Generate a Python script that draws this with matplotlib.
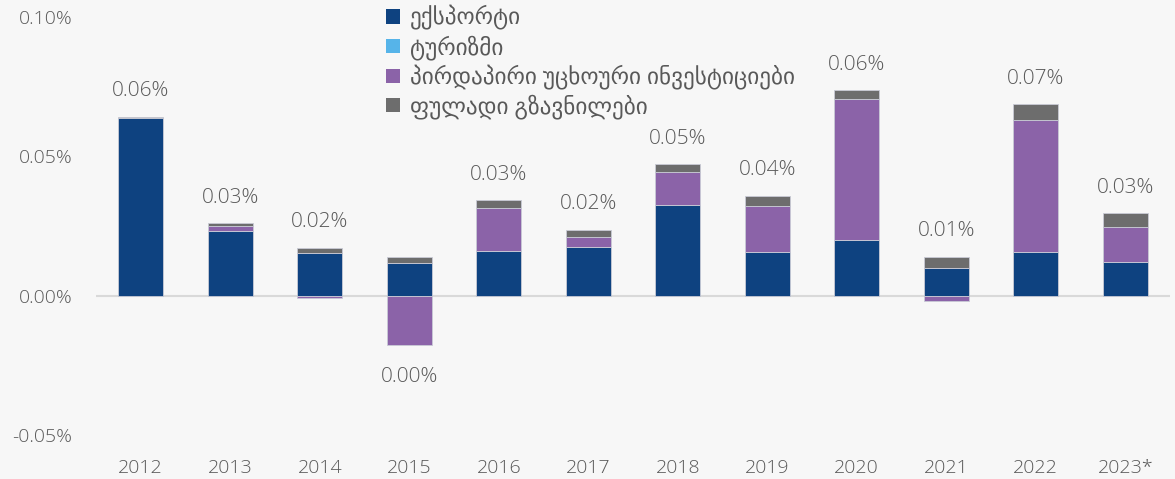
import matplotlib.pyplot as plt
import numpy as np
from matplotlib.patches import Patch

plt.rcParams['font.family'] = ['Open Sans', 'DejaVu Sans']

years = ["2012", "2013", "2014", "2015", "2016", "2017", "2018", "2019", "2020", "2021", "2022", "2023*"]
export = [0.0638, 0.0233, 0.0154, 0.0118, 0.0161, 0.0176, 0.0326, 0.0158, 0.0200, 0.0100, 0.0158, 0.0122]
tourism = [0, 0, 0, 0, 0, 0, 0, 0, 0, 0, 0, 0]
fdi = [0.0, 0.0018, -0.0008, -0.0176, 0.0154, 0.0036, 0.0118, 0.0165, 0.0506, -0.0020, 0.0473, 0.0125]
remit = [0.0004, 0.0010, 0.0018, 0.0022, 0.0029, 0.0025, 0.0029, 0.0036, 0.0032, 0.0040, 0.0057, 0.0050]
labels = ["0.06%", "0.03%", "0.02%", "0.00%", "0.03%", "0.02%", "0.05%", "0.04%", "0.06%", "0.01%", "0.07%", "0.03%"]
names = ["ექსპორტი", "ტურიზმი", "პირდაპირი უცხოური ინვესტიციები", "ფულადი გზავნილები"]
colors = ["#0e4280", "#56b4e9", "#8b63a8", "#6d6d6d"]

bg = "#f7f7f7"
txt = "#595959"

fig = plt.figure(figsize=(11.75, 4.79), dpi=100, facecolor=bg)
ax = fig.add_axes([0.0817, 0.0919, 0.914, 0.8726], facecolor=bg)

x = np.arange(len(years))
pos_base = np.zeros(len(years))
neg_base = np.zeros(len(years))
for vals, c in zip([export, tourism, fdi, remit], colors):
    v = np.array(vals)
    base = np.where(v >= 0, pos_base, neg_base)
    ax.bar(x, v, 0.5, bottom=base, color=c, edgecolor="#c9cbd6", linewidth=0.6)
    pos_base = pos_base + np.where(v >= 0, v, 0)
    neg_base = neg_base + np.where(v < 0, v, 0)

# total labels
for i in range(len(years)):
    if i == 3:
        ax.annotate(labels[i], (x[i], neg_base[i]), xytext=(0, -16), textcoords="offset points",
                    ha="center", va="top", fontsize=15, color=txt, fontweight="light")
    else:
        ax.annotate(labels[i], (x[i], pos_base[i]), xytext=(0, 11), textcoords="offset points",
                    ha="center", va="bottom", fontsize=15, color=txt, fontweight="light")

ax.axhline(0, color="#d9d9d9", linewidth=1.5, zorder=0)
ax.set_xlim(-0.5, 11.5)
ax.set_ylim(-0.05, 0.10)
ax.set_yticks([-0.05, 0, 0.05, 0.10])
ax.set_yticklabels(["-0.05%", "0.00%", "0.05%", "0.10%"])
ax.set_xticks(x)
ax.set_xticklabels(years)
ax.tick_params(axis="y", length=0, pad=17, labelsize=14, labelcolor=txt)
ax.tick_params(axis="x", length=0, pad=17, labelsize=14, labelcolor=txt)
for lab in ax.get_xticklabels() + ax.get_yticklabels():
    lab.set_fontweight("light")
for s in ax.spines.values():
    s.set_visible(False)

handles = [Patch(facecolor=c, edgecolor="none") for c in colors]
fig.legend(handles, names, loc="upper left", bbox_to_anchor=(0.319, 1.012), frameon=False,
           fontsize=16.7, handlelength=0.58, handleheight=0.58, handletextpad=0.42,
           labelspacing=0.2, borderpad=0, labelcolor=txt)

fig.savefig("out.png", dpi=100, facecolor=bg)
